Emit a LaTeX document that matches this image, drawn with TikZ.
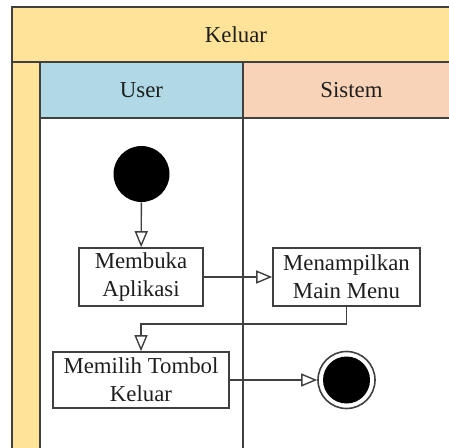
\documentclass[tikz,border=0pt]{standalone}
\usepackage{fontspec}
\setmainfont{Liberation Serif}
\usetikzlibrary{arrows.meta,positioning}
\definecolor{poolyellow}{RGB}{254,227,152}
\definecolor{userblue}{RGB}{176,217,229}
\definecolor{sistempeach}{RGB}{249,211,184}
\definecolor{linegray}{RGB}{64,64,64}
\definecolor{inkdark}{RGB}{30,30,30}
\newcommand{\lanefont}{\fontsize{11.4}{14}\selectfont}
\tikzset{
  lanehead/.style={draw=linegray, line width=1pt, minimum height=28pt, inner sep=0pt, font=\lanefont, text=inkdark},
  act/.style={draw=linegray, line width=0.8pt, align=center, inner sep=0pt, font=\lanefont, text=inkdark},
  flow/.style={-{Triangle[open, length=8pt, width=6.5pt]}, linegray, line width=0.7pt},
  startnode/.style={circle, fill=black, minimum size=28pt, inner sep=0pt},
  endnode/.style={circle, draw=linegray, line width=0.8pt, minimum size=28.5pt, inner sep=0pt,
      path picture={\fill[black] (path picture bounding box.center) circle (11.75pt);}},
}

\begin{document}
\begin{tikzpicture}[x=0.5pt, y=-0.5pt]
  \useasboundingbox (0,0) rectangle (449,448);
  \clip (0,0) rectangle (449,448);
  % pool and lanes
  \fill[poolyellow] (12,62) rectangle (40,470);
  \node[lanehead, fill=poolyellow, minimum width=224pt, minimum height=27.5pt] (pool) at (236,34.5) {Keluar};
  \node[lanehead, fill=userblue, minimum width=101.5pt] (user) at (141.5,90) {User};
  \node[lanehead, fill=sistempeach, minimum width=108.5pt] (sistem) at (351.5,90) {Sistem};
  \draw[linegray, line width=1pt] (12,62) -- (12,470) (40,118) -- (40,470) (243,118) -- (243,470);

  % activities
  \node[startnode] (start) at (141.5,174) {};
  \node[act, minimum width=62pt, minimum height=29pt] (open) at (141,277) {Membuka\\Aplikasi};
  \node[act, minimum width=73.5pt, minimum height=29pt] (menu) at (346.5,277) {Menampilkan\\Main Menu};
  \node[act, minimum width=88pt, minimum height=28pt] (pick) at (141,380) {Memilih Tombol\\Keluar};
  \node[endnode] (final) at (346.5,380) {};
  \coordinate (turn) at (0,324);

  \draw[flow] (start) -- (open);
  \draw[flow] (open) -- (menu);
  \draw[flow] (menu.south) |- (pick.north |- turn) -- (pick.north);
  \draw[flow] (pick) -- (final);
\end{tikzpicture}
\end{document}
